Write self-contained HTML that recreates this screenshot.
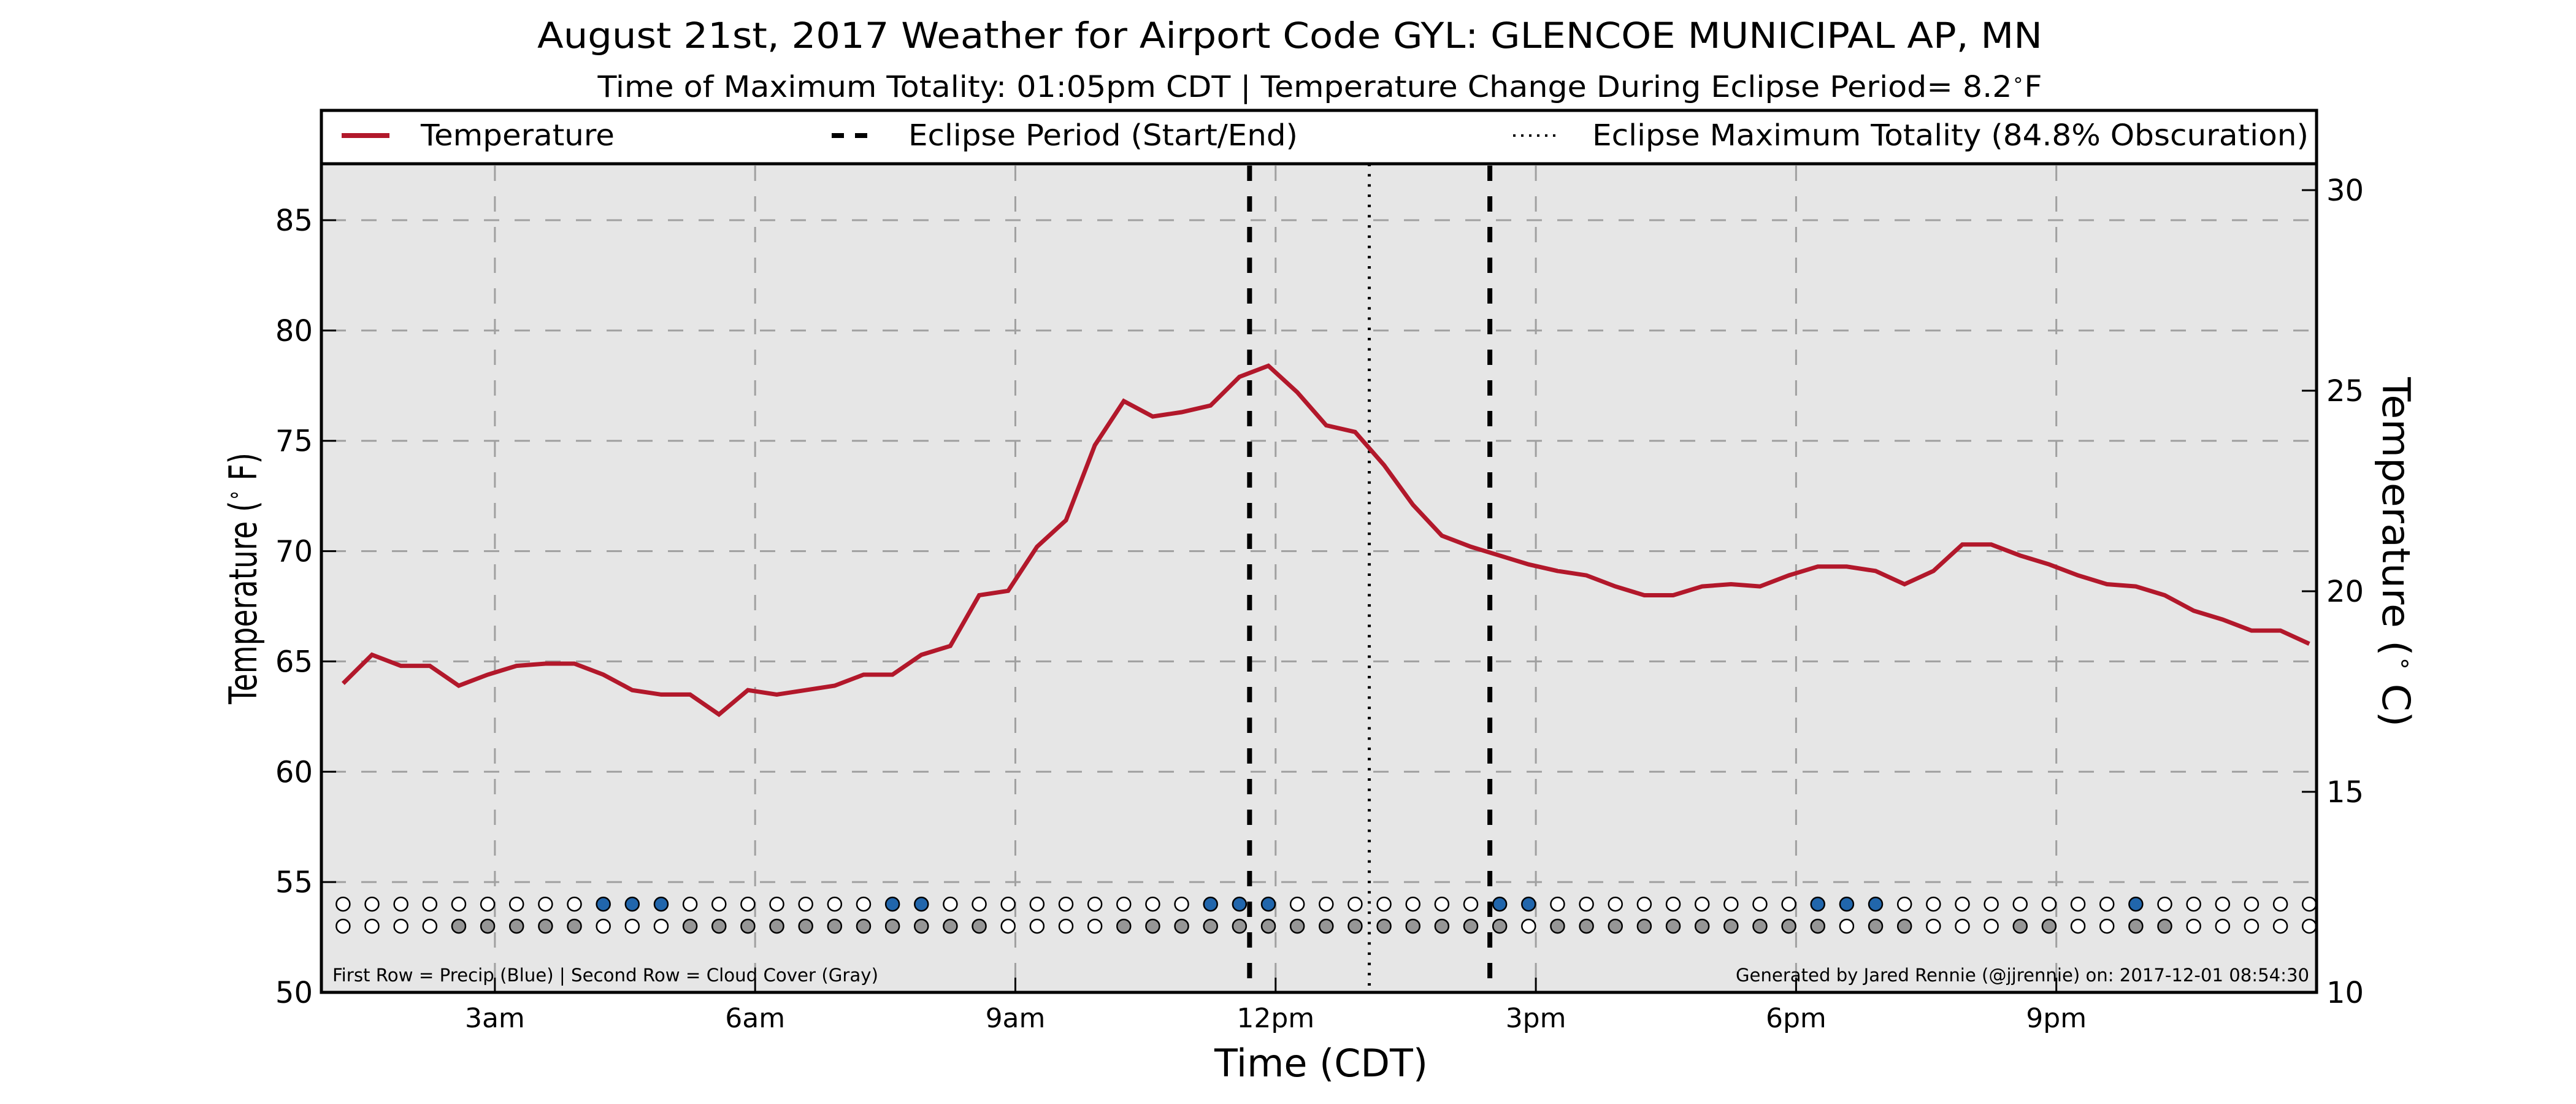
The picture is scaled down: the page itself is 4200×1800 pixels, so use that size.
<!DOCTYPE html>
<html><head><meta charset="utf-8"><style>
html,body{margin:0;padding:0;background:#fff;}
svg{display:block;font-family:"DejaVu Sans","Liberation Sans",sans-serif;}
</style></head><body>
<svg id="chart" width="4200" height="1800" viewBox="0 0 4200 1800" xmlns="http://www.w3.org/2000/svg">
<rect width="4200" height="1800" fill="#fff"/>
<text x="2103" y="78" font-size="58" text-anchor="middle" textLength="2454" lengthAdjust="spacingAndGlyphs">August 21st, 2017 Weather for Airport Code GYL: GLENCOE MUNICIPAL AP, MN</text>
<text x="2152" y="158" font-size="48" text-anchor="middle" textLength="2355" lengthAdjust="spacingAndGlyphs">Time of Maximum Totality: 01:05pm CDT | Temperature Change During Eclipse Period= 8.2<tspan font-size="30" dy="-18">∘</tspan><tspan dy="18">F</tspan></text>
<rect x="524" y="267" width="3253" height="1351" fill="#e6e6e6"/>
<g id="grid"></g>
<g id="marks"></g>
<rect x="524" y="267" width="3253" height="1351" fill="none" stroke="#000" stroke-width="5"/>
<g>
<rect x="524" y="180" width="3253" height="87" fill="#fff" stroke="#000" stroke-width="5"/>
<line x1="557" y1="221" x2="635" y2="221" stroke="#b2182b" stroke-width="8"/>
<text x="686" y="237" font-size="48" textLength="316" lengthAdjust="spacingAndGlyphs">Temperature</text>
<line x1="1356" y1="221" x2="1428" y2="221" stroke="#000" stroke-width="8" stroke-dasharray="20 18"/>
<text x="1481" y="237" font-size="48" textLength="635" lengthAdjust="spacingAndGlyphs">Eclipse Period (Start/End)</text>
<line x1="2467" y1="221" x2="2540" y2="221" stroke="#000" stroke-width="4" stroke-dasharray="4 9"/>
<text x="2596" y="237" font-size="48" textLength="1168" lengthAdjust="spacingAndGlyphs">Eclipse Maximum Totality (84.8% Obscuration)</text>
</g>
<text transform="translate(418,943) rotate(-90)" font-size="62" text-anchor="middle" textLength="410" lengthAdjust="spacingAndGlyphs">Temperature (<tspan font-size="38" dy="-24">∘</tspan><tspan dy="24"> F)</tspan></text>
<text transform="translate(3885,900) rotate(90)" font-size="62" text-anchor="middle" textLength="570" lengthAdjust="spacingAndGlyphs">Temperature (<tspan font-size="38" dy="-24">∘</tspan><tspan dy="24"> C)</tspan></text>
<text x="2154" y="1755" font-size="62" text-anchor="middle" textLength="348" lengthAdjust="spacingAndGlyphs">Time (CDT)</text>
<text x="542" y="1600" font-size="29" textLength="890" lengthAdjust="spacingAndGlyphs">First Row = Precip (Blue) | Second Row = Cloud Cover (Gray)</text>
<text x="3765" y="1600" font-size="29" text-anchor="end" textLength="935" lengthAdjust="spacingAndGlyphs">Generated by Jared Rennie (@jjrennie) on: 2017-12-01 08:54:30</text>
<g id="axes"></g>
</svg>
<script>
const startHour = 1.25;
const stepHours = 1 / 3;
const tempF = [64.0,65.3,64.8,64.8,63.9,64.4,64.8,64.9,64.9,64.4,63.7,63.5,63.5,62.6,63.7,63.5,63.7,63.9,64.4,64.4,65.3,65.7,68.0,68.2,70.2,71.4,74.8,76.8,76.1,76.3,76.6,77.9,78.4,77.2,75.7,75.4,73.9,72.1,70.7,70.2,69.8,69.4,69.1,68.9,68.4,68.0,68.0,68.4,68.5,68.4,68.9,69.3,69.3,69.1,68.5,69.1,70.3,70.3,69.8,69.4,68.9,68.5,68.4,68.0,67.3,66.9,66.4,66.4,65.8];
const precip = [0,0,0,0,0,0,0,0,0,1,1,1,0,0,0,0,0,0,0,1,1,0,0,0,0,0,0,0,0,0,1,1,1,0,0,0,0,0,0,0,1,1,0,0,0,0,0,0,0,0,0,1,1,1,0,0,0,0,0,0,0,0,1,0,0,0,0,0,0];
const cloud = [0,0,0,0,1,1,1,1,1,0,0,0,1,1,1,1,1,1,1,1,1,1,1,0,0,0,0,1,1,1,1,1,1,1,1,1,1,1,1,1,1,0,1,1,1,1,1,1,1,1,1,1,0,1,1,0,0,0,1,1,0,0,1,1,0,0,0,0,0];
const eclipseStart = 11.70;
const eclipseMax = 13.08;
const eclipseEnd = 14.47;
const xTickHours = [3,6,9,12,15,18,21];
const xTickLabels = ["3am","6am","9am","12pm","3pm","6pm","9pm"];
const yTicksF = [50,55,60,65,70,75,80,85];
const yTicksC = [10,15,20,25,30];
const precipRowF = 54;
const cloudRowF = 53;

const NS = "http://www.w3.org/2000/svg";
const X0 = 524, X1 = 3777, YT = 267, YB = 1618;
function x(h){ return X0 + (h - 1) / (24 - 1) * (X1 - X0); }
function yF(v){ return YB - (v - 50) / (85 - 50) * (YB - 359); }
function yC(v){ return YB - (v - 10) / (30 - 10) * (YB - 310); }
function mk(tag, attrs, parent){ const e = document.createElementNS(NS, tag); for (const k in attrs) e.setAttribute(k, attrs[k]); parent.appendChild(e); return e; }

const grid = document.getElementById('grid');
const marks = document.getElementById('marks');
const axes = document.getElementById('axes');

yTicksF.forEach(v => {
  if (v > 50) {
    const g = mk('line', {x1:X0, x2:X1, y1:yF(v), y2:yF(v), stroke:'#a0a0a0', 'stroke-width':3, 'stroke-dasharray':'25 25', 'stroke-dashoffset':'-15'}, grid);
    
    
  }
  const t = mk('line', {x1:X0, x2:X0+24, y1:yF(v), y2:yF(v), stroke:'#000', 'stroke-width':3}, axes);
  
  
  const l = mk('text', {x:X0-14, y:yF(v)+17, 'font-size':48, 'text-anchor':'end'}, axes);
  l.textContent = v;
  
  
});
yTicksC.forEach(v => {
  const t = mk('line', {x1:X1-24, x2:X1, y1:yC(v), y2:yC(v), stroke:'#000', 'stroke-width':3}, axes);
  
  
  const l = mk('text', {x:X1+16, y:yC(v)+17, 'font-size':48}, axes);
  l.textContent = v;
  
  
});
xTickHours.forEach((h, i) => {
  const g = mk('line', {x1:x(h), x2:x(h), y1:YT, y2:YB, stroke:'#a0a0a0', 'stroke-width':3, 'stroke-dasharray':'25 25', 'stroke-dashoffset':'-3'}, grid);
  
  
  const t = mk('line', {x1:x(h), x2:x(h), y1:YB-24, y2:YB, stroke:'#000', 'stroke-width':3}, axes);
  
  
  const l = mk('text', {x:x(h), y:1675, 'font-size':44, 'text-anchor':'middle'}, axes);
  l.textContent = xTickLabels[i];
  
  
});

[eclipseStart, eclipseEnd].forEach(h => {
  const e = mk('line', {x1:x(h), x2:x(h), y1:YT, y2:YB, stroke:'#000', 'stroke-width':8, 'stroke-dasharray':'25 25', 'stroke-dashoffset':'-3'}, marks);
  
  
});
const em = mk('line', {x1:x(eclipseMax), x2:x(eclipseMax), y1:YT, y2:YB, stroke:'#000', 'stroke-width':5, 'stroke-dasharray':'4 12.7'}, marks);



const pts = tempF.map((v, i) => x(startHour + i * stepHours).toFixed(1) + ',' + yF(v).toFixed(1)).join(' ');
const line = mk('polyline', {points:pts, fill:'none', stroke:'#b2182b', 'stroke-width':7, 'stroke-linejoin':'miter'}, marks);



precip.forEach((p, i) => {
  const c = mk('circle', {cx:x(startHour + i * stepHours), cy:yF(precipRowF), r:11, fill: p ? '#2166ac' : '#fff', stroke:'#000', 'stroke-width':2.5}, marks);
  
  
});
cloud.forEach((p, i) => {
  const c = mk('circle', {cx:x(startHour + i * stepHours), cy:yF(cloudRowF), r:11, fill: p ? '#969696' : '#fff', stroke:'#000', 'stroke-width':2.5}, marks);
  
  
});
</script>
</body></html>
